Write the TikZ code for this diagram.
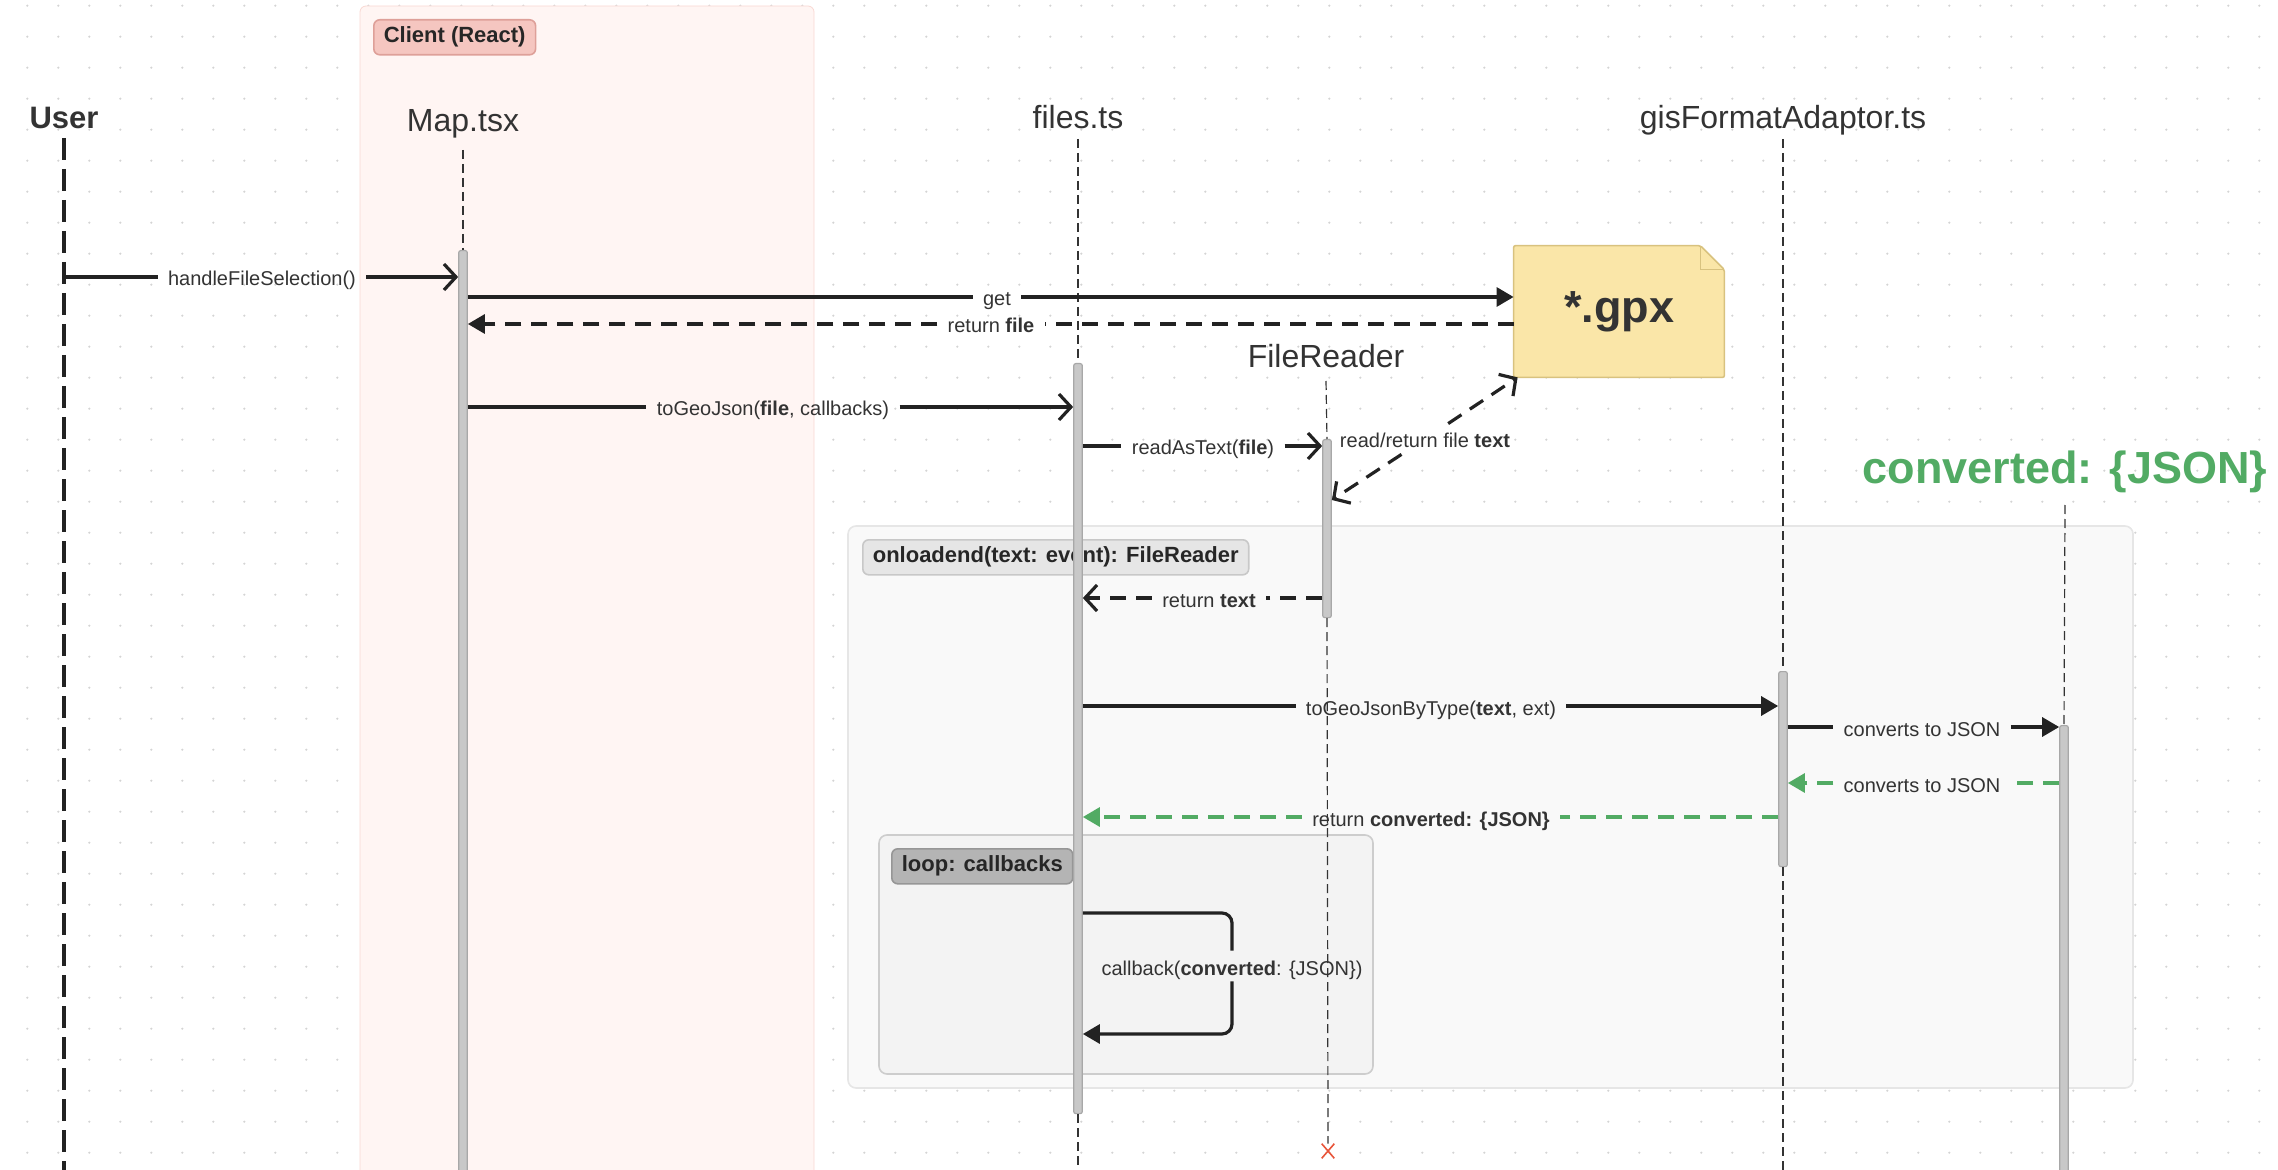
\documentclass[tikz,border=0pt]{standalone}
\usepackage{fontspec}
\setmainfont{Liberation Sans}
\usetikzlibrary{arrows.meta,shapes.misc}
\definecolor{seqtext}{RGB}{51,51,51}
\definecolor{seqline}{RGB}{34,34,34}
\definecolor{seqgreen}{RGB}{82,171,100}
\definecolor{clientfill}{RGB}{255,245,243}
\definecolor{clientline}{RGB}{249,216,211}
\definecolor{clienttag}{RGB}{245,198,192}
\definecolor{clienttagline}{RGB}{222,160,153}
\definecolor{eventfill}{RGB}{249,249,249}
\definecolor{eventline}{RGB}{230,230,230}
\definecolor{eventtag}{RGB}{230,230,230}
\definecolor{eventtagline}{RGB}{200,200,200}
\definecolor{loopfill}{RGB}{243,243,243}
\definecolor{loopline}{RGB}{205,205,205}
\definecolor{looptag}{RGB}{180,180,180}
\definecolor{looptagline}{RGB}{150,150,150}
\definecolor{barfill}{RGB}{200,200,200}
\definecolor{barline}{RGB}{168,168,168}
\definecolor{gpxfill}{RGB}{250,230,168}
\definecolor{gpxline}{RGB}{216,194,127}
\definecolor{gridgray}{RGB}{212,212,212}
\definecolor{endred}{RGB}{232,85,58}

\begin{document}
\begin{tikzpicture}[x=0.5pt, y=-0.5pt,
    actor/.style={text=seqtext, font=\fontsize{16}{18}\selectfont, inner sep=0pt, anchor=base},
    msg/.style={text=seqtext, font=\fontsize{10}{12}\selectfont, text height=10pt, text depth=1pt, inner xsep=5pt, inner ysep=2pt},
    tag/.style={text=black!85, font=\bfseries\fontsize{11}{13}\selectfont, rounded corners=3pt, line width=0.8pt, anchor=north west, minimum height=17.5pt, inner xsep=5pt},
    actbar/.style={fill=barfill, draw=barline, line width=0.6pt, minimum width=4.25pt, inner sep=0pt, anchor=north, rounded corners=1pt},
    life/.style={seqtext, line width=0.6pt, dash pattern=on 4.5pt off 2.5pt},
    call/.style={seqline, line width=1.6pt},
    reply/.style={call, dash pattern=on 8pt off 5pt},
    barb/.style={-{Straight Barb[length=6pt, width=13pt]}},
    tri/.style={-{Triangle[length=8.5pt, width=9.5pt]}}]
    \useasboundingbox (0,0) rectangle (2278,1170);

    % Griglia di sfondo
    \foreach \i in {0,...,73}
        \foreach \j in {0,...,37}
            \fill[gridgray] (27.3+31*\i, 5.7+31*\j) circle (0.6pt);

    % Riquadri
    \draw[clientline, fill=clientfill, rounded corners=3pt] (360,6) rectangle (814,1190);
    \node[tag, fill=clienttag, draw=clienttagline] (clienttag) at (373,19) {Client (React)};
    \draw[eventline, fill=eventfill, line width=0.8pt, rounded corners=4pt] (848,526) rectangle (2133,1088);
    \node[tag, fill=eventtag, draw=eventtagline] (eventtag) at (862,539) {onloadend(text: event): FileReader};
    \draw[loopline, fill=loopfill, line width=0.8pt, rounded corners=4pt] (879,835) rectangle (1373,1074);
    \node[tag, fill=looptag, draw=looptagline] (looptag) at (891,848) {loop: callbacks};

    % Partecipanti
    \node[actor, font=\bfseries\fontsize{15.5}{18}\selectfont] (user) at (64,129) {User};
    \node[actor] (map) at (463,132) {Map.tsx};
    \node[actor] (files) at (1078,129) {files.ts};
    \node[actor] (gis) at (1783,129) {gisFormatAdaptor.ts};
    \node[actor] (reader) at (1326,368) {FileReader};
    \node[actor, text=seqgreen, font=\bfseries\fontsize{22.5}{26}\selectfont] (conv) at (2065,483) {converted: \{JSON\}};

    % Attivazioni
    \node[actbar, minimum height=465pt] (mapbar) at (463,250) {};
    \node[actbar, minimum height=375pt] (filesbar) at (1078,363) {};
    \node[actbar, minimum height=89pt] (frbar) at (1327,439) {};
    \node[actbar, minimum height=97.5pt] (gisbar) at (1783,671) {};
    \node[actbar, minimum height=227.5pt] (convbar) at (2064,725) {};
    \node[cross out, draw=endred, line width=0.8pt, minimum width=5.5pt, minimum height=6.5pt, inner sep=0pt] (frend) at (1328,1151) {};

    % Linee di vita
    \draw[seqline, line width=1.6pt, dash pattern=on 11pt off 4.5pt] ([yshift=-4.5pt]user.base) -- (user |- 0,1175);
    \draw[life] ([yshift=-9pt]map.base) -- (mapbar.north);
    \draw[life] ([yshift=-5pt]files.base) -- (filesbar.north);
    \draw[life] (filesbar.south) -- (filesbar.south |- 0,1175);
    \draw[life] ([yshift=-6.5pt]reader.base) -- (frbar.north);
    \draw[life] (frbar.south) -- (frend.north);
    \draw[life] ([yshift=-5pt]gis.base) -- (gisbar.north);
    \draw[life] (gisbar.south) -- (gisbar.south |- 0,1175);
    \draw[life] ([yshift=-11pt]conv.base) -- (convbar.north);

    % File
    \node[minimum width=105pt, minimum height=65.5pt, inner sep=0pt] (note) at (1619,311.5) {};
    \draw[gpxline, fill=gpxfill, line width=0.8pt, rounded corners=1pt] (note.south west) -- (note.north west) -- ([xshift=-12pt]note.north east) -- ([yshift=-12pt]note.north east) -- (note.south east) -- cycle;
    \draw[gpxline, line width=0.8pt] ([xshift=-12pt]note.north east) -- ([xshift=-12pt, yshift=-12pt]note.north east) -- ([yshift=-12pt]note.north east);
    \node[text=seqtext, font=\bfseries\fontsize{22.5}{26}\selectfont] (gpx) at (note) {*.gpx};

    % Messaggi
    \node[msg] (m1) at (262,277) {handleFileSelection()};
    \draw[call] (user |- m1) -- (m1);
    \draw[call, barb] (m1) -- (mapbar.west |- m1);

    \node[msg] (m2) at (997,297) {get};
    \draw[call] (mapbar.east |- m2) -- (m2);
    \draw[call, tri] (m2) -- (note.west |- m2);

    \node[msg] (m3) at (991,324) {return \textbf{file}};
    \draw[reply] (note.west |- m3) -- (m3);
    \draw[reply, tri] (m3) -- (mapbar.east |- m3);

    \node[msg] (m4) at (773,407) {toGeoJson(\textbf{file}, callbacks)};
    \draw[call] (mapbar.east |- m4) -- (m4);
    \draw[call, barb] (m4) -- (filesbar.west |- m4);

    \node[msg] (m5) at (1203,446) {readAsText(\textbf{file})};
    \draw[call] (filesbar.east |- m5) -- (m5);
    \draw[call, barb] (m5) -- (frbar.west |- m5);

    \node[msg] (m6) at (1425,439) {read/return file \textbf{text}};
    \draw[reply, barb] (m6) -- (frbar.east |- 0,500);
    \draw[reply, barb] (m6) -- ([xshift=2pt]note.south west);

    \node[msg] (m7) at (1209,598) {return \textbf{text}};
    \draw[reply] (frbar.west |- m7) -- (m7);
    \draw[reply, barb] (m7) -- (filesbar.east |- m7);

    \node[msg] (m8) at (1431,706) {toGeoJsonByType(\textbf{text}, ext)};
    \draw[call] (filesbar.east |- m8) -- (m8);
    \draw[call, tri] (m8) -- (gisbar.west |- m8);

    \node[msg] (m9) at (1922,727) {converts to JSON};
    \draw[call] (gisbar.east |- m9) -- (m9);
    \draw[call, tri] (m9) -- (convbar.west |- m9);

    \node[msg] (m10) at (1922,783) {converts to JSON};
    \draw[reply, seqgreen] (convbar.west |- m10) -- (m10);
    \draw[reply, seqgreen, tri] (m10) -- (gisbar.east |- m10);

    \node[msg] (m11) at (1431,817) {return \textbf{converted: \{JSON\}}};
    \draw[reply, seqgreen] (gisbar.west |- m11) -- (m11);
    \draw[reply, seqgreen, tri] (m11) -- (filesbar.east |- m11);

    \node[msg] (m12) at (1232,966) {callback(\textbf{converted}: \{JSON\})};
    \draw[call, rounded corners=5pt] (filesbar.east |- 0,913) -| (m12.north);
    \draw[call, tri, rounded corners=5pt] (m12.south) |- (filesbar.east |- 0,1034);
\end{tikzpicture}
\end{document}
